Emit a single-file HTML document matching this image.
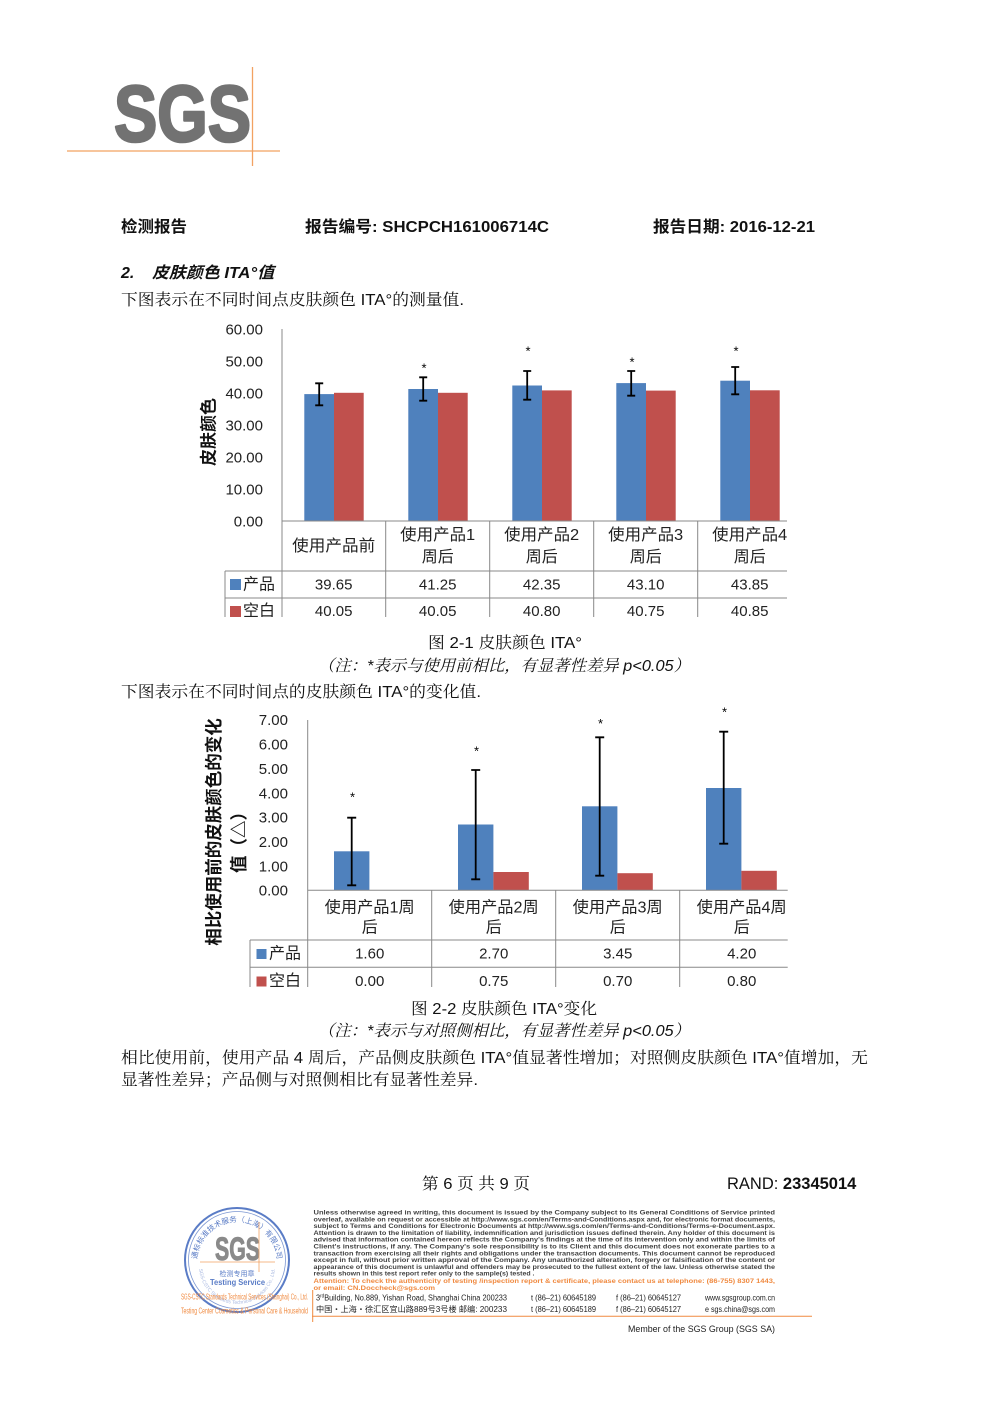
<!DOCTYPE html>
<html><head><meta charset="utf-8">
<style>
html,body{margin:0;padding:0;background:#fff;}
svg{display:block;}
.b{font-family:"Liberation Sans","Noto Serif CJK SC",serif;font-size:16px;fill:#111;}
.bi{font-family:"Liberation Sans","Noto Serif CJK SC",serif;font-size:16px;fill:#111;font-style:italic;}
.h{font-family:"Liberation Sans","Noto Sans CJK SC",sans-serif;font-weight:bold;font-size:16px;fill:#111;}
.c{font-family:"Liberation Sans","Noto Sans CJK SC",sans-serif;fill:#222;font-size:15px;}
.ck{font-family:"Liberation Sans","Noto Sans CJK SC",sans-serif;fill:#222;font-size:16px;}
.yl{font-family:"Liberation Sans","Noto Sans CJK SC",sans-serif;fill:#111;font-weight:bold;}
.st{font-family:"Liberation Sans",sans-serif;font-size:13px;fill:#000;}
.lg{font-family:"Liberation Sans",sans-serif;font-size:6.6px;fill:#444;font-weight:bold;}
.ad{font-family:"Liberation Sans","Noto Sans CJK SC",sans-serif;font-size:8px;fill:#222;}
</style></head><body>
<svg width="1000" height="1415" viewBox="0 0 1000 1415" xmlns="http://www.w3.org/2000/svg">
<defs>
<clipPath id="c1"><rect x="190" y="310" width="620" height="307"/></clipPath>
<clipPath id="c2"><rect x="190" y="700" width="620" height="287"/></clipPath>
<path id="arcTop" d="M 197 1262 A 40 40 0 0 1 277 1262"/>
<path id="arcBot" d="M 199 1266 A 38 38 0 0 0 275 1266"/>
</defs>

<!-- SGS logo -->
<text x="114" y="141" font-family="Liberation Sans" font-weight="bold" font-size="80" fill="#727272" stroke="#727272" stroke-width="2.6" stroke-linejoin="round" textLength="137" lengthAdjust="spacingAndGlyphs">SGS</text>
<line x1="67" y1="151" x2="280" y2="151" stroke="#f2a262" stroke-width="1.3"/>
<line x1="252.5" y1="67" x2="252.5" y2="166" stroke="#f2a262" stroke-width="1.3"/>

<!-- Header -->
<text class="h" x="121" y="232" textLength="66" lengthAdjust="spacingAndGlyphs">检测报告</text>
<text class="h" x="305" y="232" textLength="244" lengthAdjust="spacingAndGlyphs">报告编号: SHCPCH161006714C</text>
<text class="h" x="653" y="232" textLength="162" lengthAdjust="spacingAndGlyphs">报告日期: 2016-12-21</text>

<text class="h" x="121" y="278" font-style="italic">2.</text>
<text class="h" x="152" y="278" font-style="italic" textLength="122" lengthAdjust="spacingAndGlyphs">皮肤颜色 ITA°值</text>
<text class="b" x="121" y="305" textLength="343" lengthAdjust="spacingAndGlyphs">下图表示在不同时间点皮肤颜色 ITA°的测量值.</text>

<!-- Chart 1 -->
<g clip-path="url(#c1)">
<g class="c" text-anchor="end">
<text x="263" y="526.4">0.00</text>
<text x="263" y="494.4">10.00</text>
<text x="263" y="462.4">20.00</text>
<text x="263" y="430.4">30.00</text>
<text x="263" y="398.4">40.00</text>
<text x="263" y="366.4">50.00</text>
<text x="263" y="334.4">60.00</text>
</g>
<text class="yl" font-size="17" text-anchor="middle" transform="translate(214.5,432) rotate(-90)">皮肤颜色</text>

<g fill="#4f81bd">
<rect x="304.3" y="394.1" width="29.7" height="126.9"/>
<rect x="408.3" y="389" width="29.7" height="132"/>
<rect x="512.3" y="385.5" width="29.7" height="135.5"/>
<rect x="616.3" y="383.1" width="29.7" height="137.9"/>
<rect x="720.3" y="380.7" width="29.7" height="140.3"/>
</g>
<g fill="#c0504d">
<rect x="334" y="392.8" width="29.7" height="128.2"/>
<rect x="438" y="392.8" width="29.7" height="128.2"/>
<rect x="542" y="390.4" width="29.7" height="130.6"/>
<rect x="646" y="390.6" width="29.7" height="130.4"/>
<rect x="750" y="390.3" width="29.7" height="130.7"/>
</g>
<g stroke="#000" stroke-width="1.8" fill="none">
<path d="M319.2 383.3V405.3M315.2 383.3H323.2M315.2 405.3H323.2"/>
<path d="M423.2 377.3V400.7M419.2 377.3H427.2M419.2 400.7H427.2"/>
<path d="M527.2 371V399.7M523.2 371H531.2M523.2 399.7H531.2"/>
<path d="M631.2 371V395.7M627.2 371H635.2M627.2 395.7H635.2"/>
<path d="M735.2 367V394.3M731.2 367H739.2M731.2 394.3H739.2"/>
</g>
<g class="st" text-anchor="middle">
<text x="424" y="372.5">*</text>
<text x="528" y="355.5">*</text>
<text x="632" y="366.5">*</text>
<text x="736" y="355.5">*</text>
</g>

<g stroke="#888" stroke-width="1" fill="none">
<line x1="282" y1="329" x2="282" y2="617"/>
<line x1="282" y1="521" x2="787" y2="521"/>
<line x1="225" y1="571" x2="787" y2="571"/>
<line x1="225" y1="598" x2="787" y2="598"/>
<line x1="225" y1="571" x2="225" y2="617"/>
<line x1="385.7" y1="521" x2="385.7" y2="617"/>
<line x1="489.7" y1="521" x2="489.7" y2="617"/>
<line x1="593.7" y1="521" x2="593.7" y2="617"/>
<line x1="697.7" y1="521" x2="697.7" y2="617"/>
</g>
<g class="ck" text-anchor="middle">
<text x="333.7" y="551" textLength="83" lengthAdjust="spacingAndGlyphs">使用产品前</text>
<text x="437.7" y="540" textLength="75" lengthAdjust="spacingAndGlyphs">使用产品1</text>
<text x="437.7" y="562">周后</text>
<text x="541.7" y="540" textLength="75" lengthAdjust="spacingAndGlyphs">使用产品2</text>
<text x="541.7" y="562">周后</text>
<text x="645.7" y="540" textLength="75" lengthAdjust="spacingAndGlyphs">使用产品3</text>
<text x="645.7" y="562">周后</text>
<text x="749.7" y="540" textLength="75" lengthAdjust="spacingAndGlyphs">使用产品4</text>
<text x="749.7" y="562">周后</text>
</g>
<g class="c" text-anchor="middle">
<text x="333.7" y="589.5">39.65</text>
<text x="437.7" y="589.5">41.25</text>
<text x="541.7" y="589.5">42.35</text>
<text x="645.7" y="589.5">43.10</text>
<text x="749.7" y="589.5">43.85</text>
<text x="333.7" y="616">40.05</text>
<text x="437.7" y="616">40.05</text>
<text x="541.7" y="616">40.80</text>
<text x="645.7" y="616">40.75</text>
<text x="749.7" y="616">40.85</text>
</g>
<rect x="230" y="579" width="11" height="11" fill="#4f81bd"/>
<text class="ck" x="243" y="589.5">产品</text>
<rect x="230" y="606" width="11" height="11" fill="#c0504d"/>
<text class="ck" x="243" y="616">空白</text>
</g>

<text class="b" x="428" y="648" textLength="154" lengthAdjust="spacingAndGlyphs">图 2-1 皮肤颜色 ITA°</text>
<text class="bi" x="318" y="671" textLength="372" lengthAdjust="spacingAndGlyphs">（注：*表示与使用前相比，有显著性差异 p&lt;0.05）</text>
<text class="b" x="121" y="697" textLength="360" lengthAdjust="spacingAndGlyphs">下图表示在不同时间点的皮肤颜色 ITA°的变化值.</text>

<!-- Chart 2 -->
<g clip-path="url(#c2)">
<g class="c" text-anchor="end">
<text x="288" y="895.7">0.00</text>
<text x="288" y="871.3">1.00</text>
<text x="288" y="847">2.00</text>
<text x="288" y="822.6">3.00</text>
<text x="288" y="798.3">4.00</text>
<text x="288" y="773.9">5.00</text>
<text x="288" y="749.5">6.00</text>
<text x="288" y="725.2">7.00</text>
</g>
<text class="yl" font-size="17.5" text-anchor="middle" transform="translate(220,832) rotate(-90)">相比使用前的皮肤颜色的变化</text>
<text class="yl" font-size="17.5" text-anchor="middle" transform="translate(245,838) rotate(-90)">值（△）</text>

<g fill="#4f81bd">
<rect x="334" y="851.3" width="35.4" height="39"/>
<rect x="458" y="824.5" width="35.4" height="65.8"/>
<rect x="582" y="806.3" width="35.4" height="84"/>
<rect x="706" y="788" width="35.4" height="102.3"/>
</g>
<g fill="#c0504d">
<rect x="493.4" y="872" width="35.4" height="18.3"/>
<rect x="617.4" y="873.2" width="35.4" height="17.1"/>
<rect x="741.4" y="870.8" width="35.4" height="19.5"/>
</g>
<g stroke="#000" stroke-width="1.8" fill="none">
<path d="M351.7 817.7V885.3M347.2 817.7H356.2M347.2 885.3H356.2"/>
<path d="M475.7 770V879.3M471.2 770H480.2M471.2 879.3H480.2"/>
<path d="M599.7 737.3V875.7M595.2 737.3H604.2M595.2 875.7H604.2"/>
<path d="M723.7 731.7V843.7M719.2 731.7H728.2M719.2 843.7H728.2"/>
</g>
<g class="st" text-anchor="middle">
<text x="352.5" y="801.5">*</text>
<text x="476.5" y="755.5">*</text>
<text x="600.5" y="728">*</text>
<text x="724.5" y="716.5">*</text>
</g>
<g stroke="#888" stroke-width="1" fill="none">
<line x1="307.7" y1="720" x2="307.7" y2="987"/>
<line x1="307.7" y1="890.3" x2="787.7" y2="890.3"/>
<line x1="250" y1="940" x2="787.7" y2="940"/>
<line x1="250" y1="967.3" x2="787.7" y2="967.3"/>
<line x1="250" y1="940" x2="250" y2="987"/>
<line x1="431.7" y1="890.3" x2="431.7" y2="987"/>
<line x1="555.7" y1="890.3" x2="555.7" y2="987"/>
<line x1="679.7" y1="890.3" x2="679.7" y2="987"/>
</g>
<g class="ck" text-anchor="middle">
<text x="369.7" y="912.7" textLength="90" lengthAdjust="spacingAndGlyphs">使用产品1周</text>
<text x="369.7" y="932.7">后</text>
<text x="493.7" y="912.7" textLength="90" lengthAdjust="spacingAndGlyphs">使用产品2周</text>
<text x="493.7" y="932.7">后</text>
<text x="617.7" y="912.7" textLength="90" lengthAdjust="spacingAndGlyphs">使用产品3周</text>
<text x="617.7" y="932.7">后</text>
<text x="741.7" y="912.7" textLength="90" lengthAdjust="spacingAndGlyphs">使用产品4周</text>
<text x="741.7" y="932.7">后</text>
</g>
<g class="c" text-anchor="middle">
<text x="369.7" y="958.7">1.60</text>
<text x="493.7" y="958.7">2.70</text>
<text x="617.7" y="958.7">3.45</text>
<text x="741.7" y="958.7">4.20</text>
<text x="369.7" y="986">0.00</text>
<text x="493.7" y="986">0.75</text>
<text x="617.7" y="986">0.70</text>
<text x="741.7" y="986">0.80</text>
</g>
<rect x="256.5" y="949" width="10" height="10" fill="#4f81bd"/>
<text class="ck" x="269" y="958.7">产品</text>
<rect x="256.5" y="976.5" width="10" height="10" fill="#c0504d"/>
<text class="ck" x="269" y="986">空白</text>
</g>

<text class="b" x="411" y="1014" textLength="186" lengthAdjust="spacingAndGlyphs">图 2-2 皮肤颜色 ITA°变化</text>
<text class="bi" x="318" y="1036" textLength="372" lengthAdjust="spacingAndGlyphs">（注：*表示与对照侧相比，有显著性差异 p&lt;0.05）</text>
<text class="b" x="121" y="1063" textLength="747" lengthAdjust="spacingAndGlyphs">相比使用前，使用产品 4 周后，产品侧皮肤颜色 ITA°值显著性增加；对照侧皮肤颜色 ITA°值增加，无</text>
<text class="b" x="121" y="1085" textLength="357" lengthAdjust="spacingAndGlyphs">显著性差异；产品侧与对照侧相比有显著性差异.</text>

<!-- page footer -->
<text class="b" x="422" y="1189" textLength="108" lengthAdjust="spacingAndGlyphs">第 6 页 共 9 页</text>
<text x="727" y="1189" font-family="Liberation Sans" font-size="16.5" fill="#111">RAND: <tspan font-weight="bold">23345014</tspan></text>

<!-- stamp -->
<circle cx="237" cy="1260" r="52" fill="none" stroke="#5a7cc6" stroke-width="2"/>
<circle cx="237" cy="1260" r="48.5" fill="none" stroke="#7c97d2" stroke-width="0.8"/>
<text font-family="Liberation Sans,Noto Sans CJK SC,sans-serif" font-size="7.5" fill="#5a7cc6" text-anchor="middle"><textPath href="#arcTop" startOffset="50%">通标标准技术服务（上海）有限公司</textPath></text>
<text font-family="Liberation Sans,sans-serif" font-size="5" fill="#a8b8e0" text-anchor="middle"><textPath href="#arcBot" startOffset="50%">SGS-CSTC Standards Technical Services Co., Ltd.</textPath></text>
<text x="215" y="1260" font-family="Liberation Sans" font-weight="bold" font-size="32" fill="#8a8a8a" stroke="#8a8a8a" stroke-width="1" textLength="45" lengthAdjust="spacingAndGlyphs">SGS</text>
<line x1="200" y1="1262" x2="275" y2="1262" stroke="#f2a262" stroke-width="0.8"/>
<line x1="259" y1="1222" x2="259" y2="1272" stroke="#f2a262" stroke-width="0.8"/>
<text x="237" y="1276" font-family="Liberation Sans,Noto Sans CJK SC,sans-serif" font-size="7" fill="#5a7cc6" text-anchor="middle">检测专用章</text>
<text x="210" y="1285" font-family="Liberation Sans" font-weight="bold" font-size="8" fill="#5a7cc6" textLength="55" lengthAdjust="spacingAndGlyphs">Testing Service</text>
<text x="181" y="1299.5" font-family="Liberation Sans" font-size="8" fill="#f08a40" textLength="127" lengthAdjust="spacingAndGlyphs">SGS-CSTC Standards Technical Services (Shanghai) Co., Ltd.</text>
<text x="181" y="1313.5" font-family="Liberation Sans" font-size="8" fill="#f08a40" textLength="127" lengthAdjust="spacingAndGlyphs">Testing Center Cosmetics &amp; Personal Care &amp; Household</text>

<!-- legal text -->
<g class="lg">
<text x="313.5" y="1214.5" textLength="461.5" lengthAdjust="spacingAndGlyphs">Unless otherwise agreed in writing, this document is issued by the Company subject to its General Conditions of Service printed</text>
<text x="313.5" y="1221.3" textLength="461.5" lengthAdjust="spacingAndGlyphs">overleaf, available on request or accessible at http://www.sgs.com/en/Terms-and-Conditions.aspx and, for electronic format documents,</text>
<text x="313.5" y="1228.1" textLength="461.5" lengthAdjust="spacingAndGlyphs">subject to Terms and Conditions for Electronic Documents at http://www.sgs.com/en/Terms-and-Conditions/Terms-e-Document.aspx.</text>
<text x="313.5" y="1234.9" textLength="461.5" lengthAdjust="spacingAndGlyphs">Attention is drawn to the limitation of liability, indemnification and jurisdiction issues defined therein. Any holder of this document is</text>
<text x="313.5" y="1241.7" textLength="461.5" lengthAdjust="spacingAndGlyphs">advised that information contained hereon reflects the Company's findings at the time of its intervention only and within the limits of</text>
<text x="313.5" y="1248.5" textLength="461.5" lengthAdjust="spacingAndGlyphs">Client's instructions, if any. The Company's sole responsibility is to its Client and this document does not exonerate parties to a</text>
<text x="313.5" y="1255.3" textLength="461.5" lengthAdjust="spacingAndGlyphs">transaction from exercising all their rights and obligations under the transaction documents. This document cannot be reproduced</text>
<text x="313.5" y="1262.1" textLength="461.5" lengthAdjust="spacingAndGlyphs">except in full, without prior written approval of the Company. Any unauthorized alteration, forgery or falsification of the content or</text>
<text x="313.5" y="1268.9" textLength="461.5" lengthAdjust="spacingAndGlyphs">appearance of this document is unlawful and offenders may be prosecuted to the fullest extent of the law. Unless otherwise stated the</text>
<text x="313.5" y="1275.7" textLength="221" lengthAdjust="spacingAndGlyphs">results shown in this test report refer only to the sample(s) tested .</text>
<text x="313.5" y="1283" textLength="461.5" lengthAdjust="spacingAndGlyphs" style="fill:#f08a40">Attention: To check the authenticity of testing /inspection report &amp; certificate, please contact us at telephone: (86-755) 8307 1443,</text>
<text x="313.5" y="1290" textLength="121.5" lengthAdjust="spacingAndGlyphs" style="fill:#f08a40">or email: CN.Doccheck@sgs.com</text>
</g>
<line x1="312.7" y1="1290" x2="312.7" y2="1322" stroke="#f08a40" stroke-width="1"/>
<line x1="312" y1="1316.3" x2="812" y2="1316.3" stroke="#f08a40" stroke-width="1"/>
<g class="ad">
<text x="316" y="1300.5" textLength="191" lengthAdjust="spacingAndGlyphs">3<tspan font-size="5" dy="-3">rd</tspan><tspan dy="3">Building, No.889, Yishan Road, Shanghai China 200233</tspan></text>
<text x="531" y="1300.5" textLength="65" lengthAdjust="spacingAndGlyphs">t  (86–21) 60645189</text>
<text x="616" y="1300.5" textLength="65" lengthAdjust="spacingAndGlyphs">f  (86–21) 60645127</text>
<text x="705" y="1300.5" textLength="70" lengthAdjust="spacingAndGlyphs">www.sgsgroup.com.cn</text>
<text x="316" y="1312" textLength="191" lengthAdjust="spacingAndGlyphs">中国・上海・徐汇区宜山路889号3号楼  邮编: 200233</text>
<text x="531" y="1312" textLength="65" lengthAdjust="spacingAndGlyphs">t  (86–21) 60645189</text>
<text x="616" y="1312" textLength="65" lengthAdjust="spacingAndGlyphs">f  (86–21) 60645127</text>
<text x="705" y="1312" textLength="70" lengthAdjust="spacingAndGlyphs">e  sgs.china@sgs.com</text>
</g>
<text x="628" y="1332" font-family="Liberation Sans" font-size="9" fill="#222" textLength="147" lengthAdjust="spacingAndGlyphs">Member of the SGS Group (SGS SA)</text>
</svg>
</body></html>
